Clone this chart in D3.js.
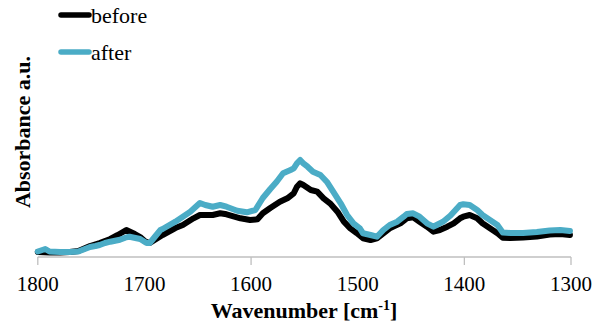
<!DOCTYPE html>
<html>
<head>
<meta charset="utf-8">
<script src="https://cdn.jsdelivr.net/npm/d3@7"></script>
<style>
  body { margin: 0; background: #fff; }
  svg text { font-family: "Liberation Serif", "Times New Roman", serif; }
</style>
</head>
<body>
<svg id="chart" width="604" height="327"></svg>
<script>
// FTIR spectra, before / after, absorbance in arbitrary units
const wnBefore = [1800, 1789, 1779, 1770, 1762, 1751, 1742, 1737, 1732, 1725, 1717, 1709, 1704, 1699, 1695,
  1683, 1671, 1664, 1654, 1648, 1636, 1629, 1623, 1610, 1601, 1594, 1589, 1582, 1573, 1566, 1560, 1557,
  1554, 1551, 1544, 1538, 1532, 1526, 1519, 1513, 1507, 1501, 1495, 1488, 1482, 1476, 1470, 1460, 1454,
  1448, 1442, 1435, 1429, 1423, 1416, 1410, 1404, 1401, 1395, 1388, 1383, 1376, 1369, 1364, 1357, 1345,
  1332, 1320, 1310, 1301];
const absBefore = [0.05, 0.045, 0.045, 0.05, 0.06, 0.11, 0.14, 0.16, 0.18, 0.22, 0.27, 0.23, 0.20, 0.153, 0.14,
  0.22, 0.29, 0.32, 0.387, 0.42, 0.42, 0.437, 0.427, 0.387, 0.37, 0.377, 0.437, 0.49, 0.553, 0.587, 0.637, 0.703,
  0.737, 0.72, 0.67, 0.653, 0.587, 0.537, 0.453, 0.353, 0.287, 0.24, 0.187, 0.17, 0.187, 0.237, 0.287, 0.337, 0.387,
  0.397, 0.353, 0.303, 0.253, 0.27, 0.303, 0.337, 0.387, 0.403, 0.42, 0.387, 0.337, 0.287, 0.237, 0.193, 0.19, 0.195,
  0.205, 0.225, 0.23, 0.22];

const wnAfter = [1800, 1793, 1789, 1779, 1770, 1762, 1751, 1746, 1742, 1737, 1732, 1723, 1718, 1714, 1704, 1698,
  1695, 1685, 1683, 1671, 1664, 1657, 1648, 1643, 1636, 1629, 1623, 1613, 1604, 1596, 1589, 1582, 1576, 1570,
  1563, 1560, 1557, 1554, 1551, 1547, 1542, 1535, 1529, 1523, 1516, 1510, 1504, 1498, 1495, 1488, 1482, 1476,
  1470, 1463, 1457, 1454, 1448, 1442, 1435, 1429, 1426, 1420, 1413, 1404, 1401, 1395, 1388, 1383, 1376, 1369,
  1364, 1357, 1345, 1332, 1320, 1310, 1301];
const absAfter = [0.055, 0.08, 0.055, 0.05, 0.05, 0.055, 0.10, 0.11, 0.12, 0.14, 0.153, 0.173, 0.193, 0.203, 0.18, 0.14,
  0.14, 0.27, 0.28, 0.353, 0.403, 0.453, 0.54, 0.52, 0.503, 0.52, 0.503, 0.463, 0.447, 0.47, 0.59, 0.68, 0.753, 0.837,
  0.87, 0.887, 0.937, 0.97, 0.937, 0.903, 0.853, 0.82, 0.753, 0.653, 0.537, 0.42, 0.337, 0.287, 0.237, 0.22, 0.203, 0.27,
  0.32, 0.353, 0.403, 0.43, 0.437, 0.403, 0.337, 0.303, 0.32, 0.353, 0.415, 0.52, 0.527, 0.52, 0.47, 0.42, 0.37, 0.32,
  0.245, 0.24, 0.24, 0.25, 0.265, 0.27, 0.26];

const xLabels = [1800, 1700, 1600, 1500, 1400, 1300];
const xTicks = [1800, 1600, 1400, 1300];

const FONT = '"Liberation Serif", "Times New Roman", serif';

const svg = d3.select('#chart');
const x = d3.scaleLinear().domain([1800, 1300]).range([37.8, 571]);
const y = d3.scaleLinear().domain([0, 2.5]).range([257, 7]);

const line = d3.line().x(d => x(d[0])).y(d => y(d[1]));

// x axis: light gray baseline with a few ticks, labels every 100
svg.append('line')
  .attr('x1', x(1800)).attr('x2', x(1300)).attr('y1', 257).attr('y2', 257)
  .attr('stroke', '#bfbfbf').attr('stroke-width', 1.3);
xTicks.forEach(t => {
  svg.append('line')
    .attr('x1', x(t)).attr('x2', x(t)).attr('y1', 257).attr('y2', 265)
    .attr('stroke', '#bfbfbf').attr('stroke-width', 1.3);
});
svg.selectAll('.xl').data(xLabels).enter().append('text')
  .attr('x', d => x(d)).attr('y', 291)
  .attr('font-family', FONT)
  .attr('text-anchor', 'middle').attr('font-size', 21).attr('fill', '#000')
  .text(d => d);

// axis titles
const xt = svg.append('text')
  .attr('x', 304).attr('y', 318).attr('font-family', FONT)
  .attr('text-anchor', 'middle').attr('font-size', 22).attr('font-weight', 700);
xt.append('tspan').text('Wavenumber [cm');
xt.append('tspan').attr('font-size', 14).attr('dy', -8).text('-1');
xt.append('tspan').attr('dy', 8).text(']');

svg.append('text')
  .attr('transform', 'translate(30,132) rotate(-90)').attr('font-family', FONT)
  .attr('text-anchor', 'middle').attr('font-size', 22).attr('font-weight', 700)
  .text('Absorbance a.u.');

// series — before drawn first, after on top
svg.append('path')
  .datum(d3.zip(wnBefore, absBefore))
  .attr('d', line).attr('fill', 'none')
  .attr('stroke', '#000').attr('stroke-width', 6)
  .attr('stroke-linejoin', 'round').attr('stroke-linecap', 'round');
svg.append('path')
  .datum(d3.zip(wnAfter, absAfter))
  .attr('d', line).attr('fill', 'none')
  .attr('stroke', '#4bacc6').attr('stroke-width', 6)
  .attr('stroke-linejoin', 'round').attr('stroke-linecap', 'round');

// legend
const legend = [{ label: 'before', color: '#000', y: 15 }, { label: 'after', color: '#4bacc6', y: 52 }];
legend.forEach(l => {
  svg.append('line')
    .attr('x1', 61).attr('x2', 89).attr('y1', l.y).attr('y2', l.y)
    .attr('stroke', l.color).attr('stroke-width', 5.5).attr('stroke-linecap', 'round');
  svg.append('text')
    .attr('x', 91).attr('y', l.y + 8).attr('font-family', FONT)
    .attr('font-size', 22).attr('fill', '#000')
    .text(l.label);
});
</script>
</body>
</html>
